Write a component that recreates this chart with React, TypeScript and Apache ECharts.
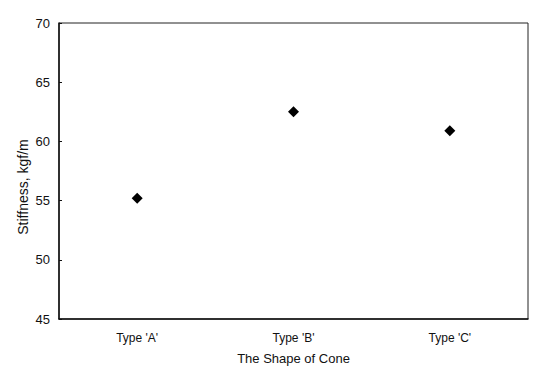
import React, { useEffect, useRef } from "react";
import * as echarts from "echarts";

const categories = ["Type 'A'", "Type 'B'", "Type 'C'"];
const stiffness = [55.2, 62.5, 60.9];
const yTicks = { min: 45, max: 70, interval: 5 };
const yTitle = "Stiffness, kgf/m";
const xTitle = "The Shape of Cone";

export default function App() {
  const ref = useRef<HTMLDivElement>(null);
  useEffect(() => {
    if (!ref.current) return;
    const chart = echarts.init(ref.current, null, { renderer: "svg" });
    const font = "Liberation Sans, Arial, sans-serif";
    chart.setOption({
      animation: false,
      backgroundColor: "#fff",
      grid: {
        left: 59,
        right: 13,
        top: 23,
        bottom: 53,
        show: true,
        borderColor: "#222",
        borderWidth: 1,
        containLabel: false,
      },
      graphic: [
        {
          type: "text",
          x: 23,
          y: 187,
          rotation: Math.PI / 2,
          style: {
            text: yTitle,
            fontFamily: font,
            fontSize: 14,
            fill: "#111",
            textAlign: "center",
            textVerticalAlign: "middle",
          },
        },
      ],
      xAxis: {
        type: "category",
        data: categories,
        boundaryGap: true,
        name: xTitle,
        nameLocation: "middle",
        nameGap: 33,
        nameTextStyle: { fontFamily: font, fontSize: 13, color: "#111" },
        axisLine: { lineStyle: { color: "#111", width: 1.5 } },
        axisTick: { inside: true, length: 3, lineStyle: { color: "#111" } },
        axisLabel: { fontFamily: font, fontSize: 12, color: "#111", margin: 13 },
        splitLine: { show: false },
      },
      yAxis: {
        type: "value",
        min: yTicks.min,
        max: yTicks.max,
        interval: yTicks.interval,
        axisLine: { show: true, lineStyle: { color: "#111", width: 1.5 } },
        axisTick: { show: true, inside: true, length: 3, lineStyle: { color: "#111" } },
        axisLabel: { fontFamily: font, fontSize: 13, color: "#111", margin: 9 },
        splitLine: { show: false },
      },
      series: [
        {
          type: "scatter",
          data: stiffness,
          symbol: "diamond",
          symbolSize: 11,
          itemStyle: { color: "#000", opacity: 1 },
        },
      ],
    });
    return () => chart.dispose();
  }, []);
  return <div ref={ref} style={{ width: 541, height: 372, position: "absolute", left: 0, top: 0 }} />;
}
